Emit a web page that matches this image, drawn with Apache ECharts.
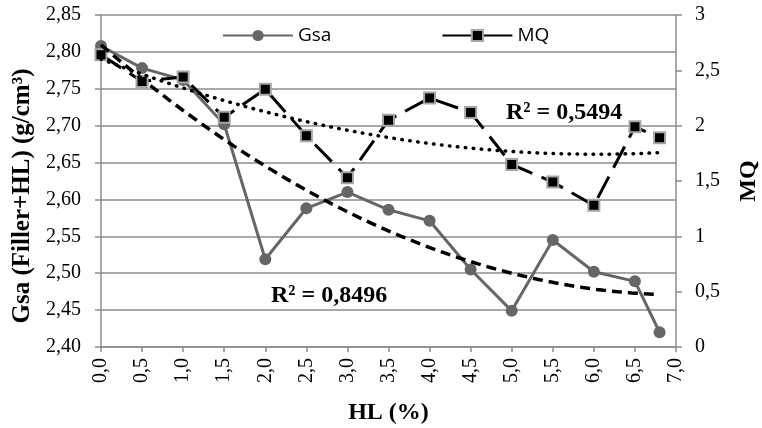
<!DOCTYPE html>
<html>
<head>
<meta charset="utf-8">
<script src="https://cdn.jsdelivr.net/npm/echarts@6/dist/echarts.min.js"></script>
<style>html,body{margin:0;padding:0;background:#fff}#c{width:762px;height:428px}</style>
</head>
<body>
<div id="c"></div>
<script>
const hl = [0, 0.5, 1, 1.5, 2, 2.5, 3, 3.5, 4, 4.5, 5, 5.5, 6, 6.5, 6.8];
const gsa = [2.808, 2.778, 2.762, 2.702, 2.519, 2.588, 2.610, 2.586, 2.571, 2.505, 2.449, 2.545, 2.502, 2.489, 2.420];
const mq = [2.64, 2.40, 2.44, 2.075, 2.33, 1.91, 1.53, 2.05, 2.25, 2.12, 1.65, 1.49, 1.28, 1.99, 1.89];
const r2Labels = ['R² = 0,8496', 'R² = 0,5494'];
const yLeftTitle = 'Gsa (Filler+HL) (g/cm³)';

// Excel-style 2nd order polynomial trendline (least squares) computed from the data
function polyfit(xs, ys, deg) {
  const n = deg + 1;
  const A = [];
  for (let i = 0; i < n; i++) { A.push(new Array(n + 1).fill(0)); }
  for (let k = 0; k < xs.length; k++) {
    for (let i = 0; i < n; i++) {
      for (let j = 0; j < n; j++) A[i][j] += Math.pow(xs[k], i + j);
      A[i][n] += ys[k] * Math.pow(xs[k], i);
    }
  }
  for (let i = 0; i < n; i++) {
    let p = i;
    for (let r = i + 1; r < n; r++) if (Math.abs(A[r][i]) > Math.abs(A[p][i])) p = r;
    [A[i], A[p]] = [A[p], A[i]];
    for (let r = 0; r < n; r++) {
      if (r === i) continue;
      const f = A[r][i] / A[i][i];
      for (let c = i; c <= n; c++) A[r][c] -= f * A[i][c];
    }
  }
  return A.map((row, i) => row[n] / row[i]);
}
function evalPoly(c, x) { return c.reduce((s, v, i) => s + v * Math.pow(x, i), 0); }
function trend(xs, ys, deg) {
  const c = polyfit(xs, ys, deg);
  const out = [];
  const x0 = xs[0], x1 = xs[xs.length - 1];
  const steps = 80;
  for (let i = 0; i <= steps; i++) { const x = x0 + (x1 - x0) * i / steps; out.push([x, evalPoly(c, x)]); }
  return out;
}

const serif = '"Liberation Serif", "Times New Roman", serif';
const gray = '#8c8c8c';
const chart = echarts.init(document.getElementById('c'), null, { renderer: 'canvas' });
chart.setOption({
  animation: false,
  backgroundColor: '#fff',
  grid: { left: 101, right: 86, top: 15, bottom: 81, outerBoundsMode: 'none', containLabel: false },
  legend: {
    left: 217, top: 21, itemWidth: 70, itemHeight: 14, itemGap: 110,
    textStyle: { fontFamily: '"Open Sans"', fontSize: 19, color: '#000' },
    data: [
      { name: 'Gsa', lineStyle: { type: 'solid' } },
      { name: 'MQ', lineStyle: { type: 'solid' } }
    ]
  },
  xAxis: {
    type: 'value', min: 0, max: 7, interval: 0.5,
    name: 'HL (%)', nameLocation: 'middle', nameGap: 54,
    nameTextStyle: { fontFamily: serif, fontSize: 24, fontWeight: 'bold', color: '#000' },
    axisLine: { lineStyle: { color: gray, width: 1.5 } },
    axisTick: { show: true, length: 5, lineStyle: { color: gray, width: 1.5 } },
    axisLabel: { rotate: 90, margin: 11, fontFamily: serif, fontSize: 20, color: '#000',
      formatter: v => v.toFixed(1).replace('.', ',') },
    splitLine: { show: false }
  },
  yAxis: [
    {
      type: 'value', min: 2.40, max: 2.85, interval: 0.05,
      axisLine: { show: true, lineStyle: { color: gray, width: 1.5 } },
      axisTick: { show: true, length: 6, lineStyle: { color: gray, width: 1.5 } },
      axisLabel: { margin: 20, fontFamily: serif, fontSize: 20, color: '#000',
        formatter: v => v.toFixed(2).replace('.', ',') },
      splitLine: { show: true, lineStyle: { color: gray, width: 1.5 } }
    },
    {
      type: 'value', min: 0, max: 3, interval: 0.5, position: 'right',
      name: 'MQ', nameLocation: 'middle', nameGap: 61, nameRotate: 90,
      nameTextStyle: { fontFamily: serif, fontSize: 24, fontWeight: 'bold', color: '#000' },
      axisLine: { show: true, lineStyle: { color: gray, width: 1.5 } },
      axisTick: { show: true, length: 6, lineStyle: { color: gray, width: 1.5 } },
      axisLabel: { margin: 19, fontFamily: serif, fontSize: 20, color: '#000',
        formatter: v => String(Math.round(v * 10) / 10).replace('.', ',') },
      splitLine: { show: false }
    }
  ],
  series: [
    {
      name: 'Gsa', type: 'line', yAxisIndex: 0, z: 2,
      data: hl.map((x, i) => [x, gsa[i]]),
      symbol: 'circle', symbolSize: 12,
      lineStyle: { color: '#666666', width: 3 },
      itemStyle: { color: '#666666' }
    },
    {
      name: 'MQ', type: 'line', yAxisIndex: 1, z: 3,
      data: hl.map((x, i) => [x, mq[i]]),
      symbol: 'rect', symbolSize: 11,
      lineStyle: { color: '#000', width: 3, type: [24, 10] },
      itemStyle: { color: '#000', borderColor: '#a6a6a6', borderWidth: 2 }
    },
    {
      name: 'Gsa trend', type: 'line', yAxisIndex: 0, z: 4, showSymbol: false, symbol: 'none',
      data: trend(hl, gsa, 2),
      lineStyle: { color: '#000', width: 3.5, type: [10, 6] }
    },
    {
      name: 'MQ trend', type: 'line', yAxisIndex: 1, z: 4, showSymbol: false, symbol: 'none',
      data: trend(hl, mq, 2),
      lineStyle: { color: '#000', width: 3.5, type: [0.5, 7.5], cap: 'round' }
    }
  ],
  graphic: [
    { type: 'text', x: 23, y: 196, rotation: Math.PI / 2,
      style: { text: yLeftTitle, font: 'bold 25px ' + serif, fill: '#000', align: 'center', verticalAlign: 'middle' } },
    { type: 'text', left: 271, top: 284, style: { text: r2Labels[0], font: 'bold 24px ' + serif, fill: '#000' } },
    { type: 'text', left: 506, top: 101, style: { text: r2Labels[1], font: 'bold 24px ' + serif, fill: '#000' } }
  ]
});
</script>
</body>
</html>
